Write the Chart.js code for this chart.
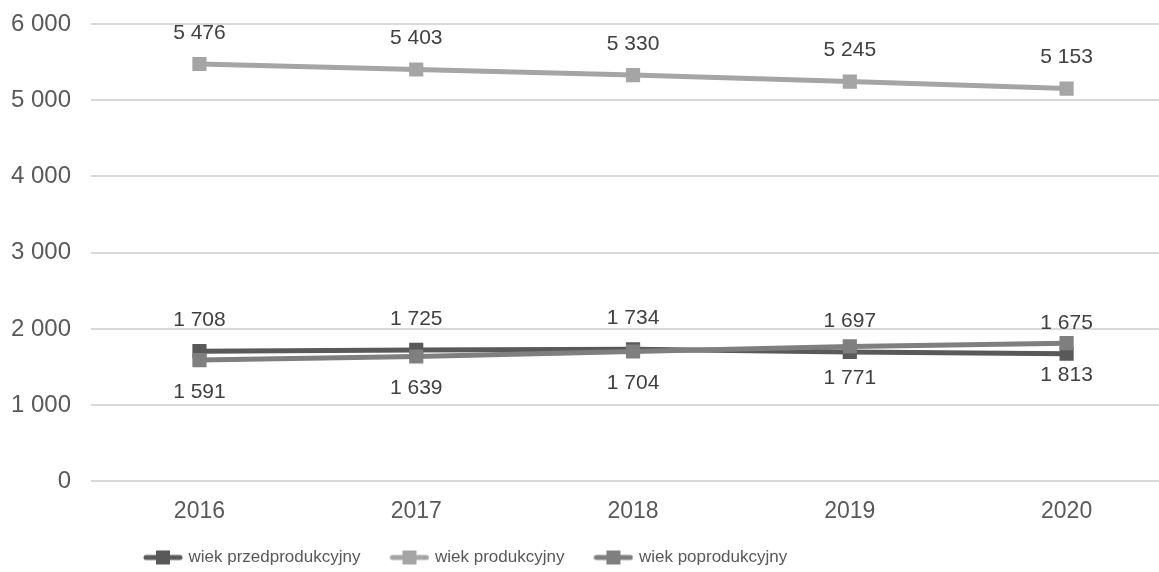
<!DOCTYPE html>
<html>
<head>
<meta charset="utf-8">
<script src="https://cdn.jsdelivr.net/npm/chart.js@4"></script>
<style>
  html, body { margin: 0; padding: 0; background: #fff; overflow: hidden; }
  #wrap { position: relative; width: 1190px; height: 572px; }
</style>
</head>
<body>
<div id="wrap"><canvas id="myChart"></canvas></div>
<script>
  const years = ['2016', '2017', '2018', '2019', '2020'];
  const przedprodukcyjny = [1708, 1725, 1734, 1697, 1675];
  const produkcyjny = [5476, 5403, 5330, 5245, 5153];
  const poprodukcyjny = [1591, 1639, 1704, 1771, 1813];
  const yTicks = [0, 1000, 2000, 3000, 4000, 5000, 6000];

  const fmt = (v) => String(v).replace(/\B(?=(\d{3})+(?!\d))/g, ' ');

  // legend icon: short thick line with a square in the middle
  function legendIcon(color) {
    const c = document.createElement('canvas');
    c.width = 40;
    c.height = 16;
    const ctx = c.getContext('2d');
    ctx.strokeStyle = color;
    ctx.lineWidth = 5;
    ctx.lineCap = 'round';
    ctx.beginPath();
    ctx.moveTo(3, 8);
    ctx.lineTo(37, 8);
    ctx.stroke();
    ctx.fillStyle = color;
    ctx.fillRect(13, 1, 14, 14);
    return c;
  }

  const colors = ['#595959', '#a5a5a5', '#7f7f7f'];
  const icons = colors.map(legendIcon);

  const dataLabels = {
    id: 'dataLabels',
    afterDatasetsDraw(chart) {
      const ctx = chart.ctx;
      ctx.save();
      ctx.font = '21px "Liberation Sans", Arial, sans-serif';
      ctx.fillStyle = '#404040';
      ctx.textAlign = 'center';
      ctx.textBaseline = 'middle';
      chart.data.datasets.forEach((ds, i) => {
        const meta = chart.getDatasetMeta(i);
        meta.data.forEach((pt, j) => {
          const dy = ds.labelPos === 'below' ? 32 : -31;
          ctx.fillText(fmt(ds.data[j]), pt.x, pt.y + dy);
        });
      });
      ctx.restore();
    }
  };

  // put the legend where the original has it (left of centre, close to bottom)
  const legendPlace = {
    id: 'legendPlace',
    afterLayout(chart) {
      const lg = chart.legend;
      const h = lg.height;
      lg.left = 114;
      lg.top = 517;
      lg.bottom = lg.top + h;
    }
  };

  const data = {
    labels: years,
    datasets: [{
      label: 'wiek przedprodukcyjny',
      data: przedprodukcyjny,
      borderColor: colors[0],
      backgroundColor: colors[0],
      labelPos: 'above',
      order: 3
    }, {
      label: 'wiek produkcyjny',
      data: produkcyjny,
      borderColor: colors[1],
      backgroundColor: colors[1],
      labelPos: 'above',
      order: 2
    }, {
      label: 'wiek poprodukcyjny',
      data: poprodukcyjny,
      borderColor: colors[2],
      backgroundColor: colors[2],
      labelPos: 'below',
      order: 1
    }]
  };

  const config = {
    type: 'line',
    data: data,
    options: {
      responsive: true,
      maintainAspectRatio: false,
      animation: false,
      layout: { padding: { left: -9, right: 15, top: 24, bottom: -28 } },
      elements: {
        line: { borderWidth: 5, borderCapStyle: 'round', borderJoinStyle: 'round', tension: 0 },
        point: { pointStyle: 'rect', radius: 10, borderWidth: 0, hoverRadius: 10 }
      },
      scales: {
        x: {
          offset: true,
          grid: { display: false, drawTicks: false, offset: true },
          border: { display: false },
          ticks: {
            color: '#595959',
            padding: 16,
            font: { family: '"Liberation Sans", Arial, sans-serif', size: 23 }
          },
          afterFit(axis) {
            axis.paddingLeft = 0;
            axis.paddingRight = 0;
          }
        },
        y: {
          min: 0,
          max: 6000,
          afterBuildTicks(axis) {
            axis.ticks = yTicks.map(v => ({ value: v }));
          },
          grid: { color: '#d9d9d9', lineWidth: 2, drawTicks: false },
          border: { display: false },
          ticks: {
            color: '#595959',
            padding: 20,
            font: { family: '"Liberation Sans", Arial, sans-serif', size: 24 },
            callback: (v) => fmt(v)
          },
          afterFit(axis) {
            axis.paddingTop = 0;
            axis.paddingBottom = 0;
          }
        }
      },
      plugins: {
        tooltip: { enabled: false },
        legend: {
          position: 'bottom',
          align: 'start',
          labels: {
            usePointStyle: true,
            pointStyleWidth: 34,
            padding: 32,
            color: '#595959',
            font: { family: '"Liberation Sans", Arial, sans-serif', size: 17 },
            sort: (a, b) => a.datasetIndex - b.datasetIndex,
            generateLabels(chart) {
              const items = Chart.defaults.plugins.legend.labels.generateLabels(chart);
              items.forEach((it) => { it.pointStyle = icons[it.datasetIndex]; });
              return items;
            }
          }
        }
      }
    },
    plugins: [dataLabels, legendPlace]
  };

  const myChart = new Chart(
    document.getElementById('myChart'),
    config
  );
</script>
</body>
</html>
